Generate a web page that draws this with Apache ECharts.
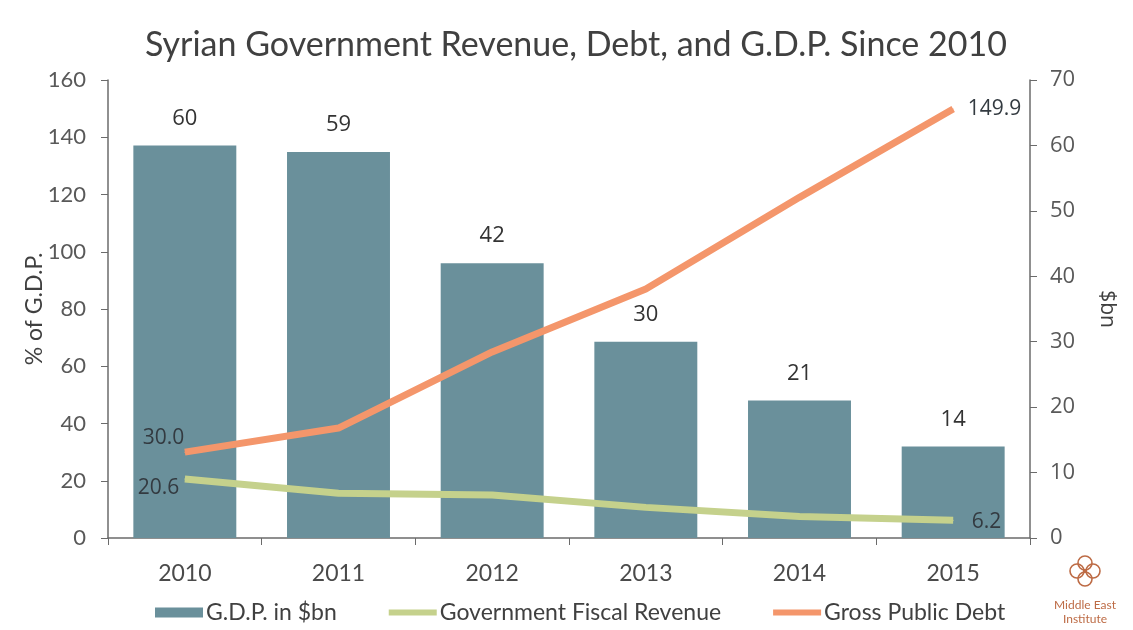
<!DOCTYPE html>
<html>
<head>
<meta charset="utf-8">
<title>Syrian Government Revenue, Debt, and G.D.P. Since 2010</title>
<script src="https://cdn.jsdelivr.net/npm/echarts@6/dist/echarts.min.js"></script>
<style>
  html, body { margin: 0; padding: 0; background: #ffffff; }
  #chart { width: 1133px; height: 630px; }
</style>
</head>
<body>
<div id="chart"></div>
<script>
// Years on the category axis
const years = ['2010', '2011', '2012', '2013', '2014', '2015'];
// G.D.P. in billions of dollars (right axis)
const gdpBn = [60, 59, 42, 30, 21, 14];
// Government fiscal revenue, % of G.D.P. (left axis)
const revenuePct = [20.6, 15.6, 15.0, 10.7, 7.5, 6.2];
// Gross public debt, % of G.D.P. (left axis)
const debtPct = [30.0, 38.4, 65.0, 87.0, 119.0, 149.9];

const leftTicks = { min: 0, max: 160, interval: 20 };
const rightTicks = { min: 0, max: 70, interval: 10 };

const FONT = 'Lato, "Open Sans", sans-serif';
const NUM_FONT = '"Open Sans", Lato, sans-serif';
const BAR_COLOR = '#6a909b';
const REV_COLOR = '#c5d18c';
const DEBT_COLOR = '#f4966b';
const AXIS = '#6b6b6b';
const LOGO = '#bd6b45';

// Labels only on the first and last point of each line
function endLabels(values, first, last) {
  return values.map(function (v, i) {
    if (i === 0) return { value: v, label: Object.assign({ show: true }, first) };
    if (i === values.length - 1) return { value: v, label: Object.assign({ show: true }, last) };
    return v;
  });
}

const lineLabelBase = {
  fontFamily: NUM_FONT,
  fontSize: 21,
  color: '#333a40',
  formatter: function (p) { return p.value.toFixed(1); }
};

const chart = echarts.init(document.getElementById('chart'));
chart.setOption({
  backgroundColor: '#ffffff',
  animation: false,
  title: {
    text: 'Syrian Government Revenue, Debt, and G.D.P. Since 2010',
    left: 140,
    top: 23,
    textStyle: { fontFamily: FONT, fontSize: 34, fontWeight: 'normal', color: '#404040' }
  },
  grid: { left: 108, right: 103, top: 80, bottom: 92 },
  legend: {
    top: 596,
    left: 150,
    itemWidth: 48,
    itemHeight: 10,
    itemGap: 52,
    textStyle: { fontFamily: FONT, fontSize: 23, color: '#404040', padding: [0, 0, 0, -2] },
    data: [
      { name: 'G.D.P. in $bn', icon: 'rect' },
      { name: 'Government Fiscal Revenue', icon: 'path://M0,0h48v6h-48z' },
      { name: 'Gross Public Debt', icon: 'path://M0,0h48v6h-48z' }
    ]
  },
  xAxis: {
    type: 'category',
    data: years,
    boundaryGap: true,
    axisLine: { lineStyle: { color: AXIS, width: 1.5 } },
    axisTick: { show: true, alignWithLabel: false, length: 7, lineStyle: { color: AXIS } },
    axisLabel: { fontFamily: FONT, fontSize: 23, color: '#4a4a4a', margin: 24 },
    splitLine: { show: false }
  },
  yAxis: [
    {
      type: 'value',
      position: 'left',
      min: leftTicks.min, max: leftTicks.max, interval: leftTicks.interval,
      name: '% of G.D.P.',
      nameLocation: 'middle',
      nameGap: 62,
      nameMoveOverlap: false,
      nameTextStyle: { fontFamily: FONT, fontSize: 23, color: '#404040' },
      axisLine: { show: true, lineStyle: { color: AXIS, width: 1.5 } },
      axisTick: { show: true, length: 7, lineStyle: { color: AXIS } },
      axisLabel: { fontFamily: FONT, fontSize: 22, color: '#595959', margin: 22 },
      splitLine: { show: false }
    },
    {
      type: 'value',
      position: 'right',
      min: rightTicks.min, max: rightTicks.max, interval: rightTicks.interval,
      name: '$bn',
      nameLocation: 'middle',
      nameRotate: -90,
      nameGap: 66,
      nameTextStyle: { fontFamily: NUM_FONT, fontSize: 21, color: '#404040' },
      axisLine: { show: true, lineStyle: { color: AXIS, width: 1.5 } },
      axisTick: { show: true, length: 7, lineStyle: { color: AXIS } },
      axisLabel: { fontFamily: NUM_FONT, fontSize: 22, color: '#595959', margin: 20 },
      splitLine: { show: false }
    }
  ],
  series: [
    {
      name: 'G.D.P. in $bn',
      type: 'bar',
      yAxisIndex: 1,
      data: gdpBn,
      barWidth: '67%',
      color: BAR_COLOR,
      itemStyle: { color: BAR_COLOR },
      label: {
        show: true,
        position: 'top',
        distance: 16,
        fontFamily: NUM_FONT,
        fontSize: 22,
        color: '#333333'
      },
      z: 1
    },
    {
      name: 'Government Fiscal Revenue',
      type: 'line',
      yAxisIndex: 0,
      symbol: 'circle',
      symbolSize: 1,
      showSymbol: true,
      color: REV_COLOR,
      itemStyle: { color: REV_COLOR },
      lineStyle: { color: REV_COLOR, width: 7 },
      data: endLabels(revenuePct,
        Object.assign({}, lineLabelBase, { position: 'left', distance: 5, offset: [0, 9] }),
        Object.assign({}, lineLabelBase, { position: 'right', distance: 18, offset: [0, 2] })
      ),
      z: 3
    },
    {
      name: 'Gross Public Debt',
      type: 'line',
      yAxisIndex: 0,
      symbol: 'circle',
      symbolSize: 1,
      showSymbol: true,
      color: DEBT_COLOR,
      itemStyle: { color: DEBT_COLOR },
      lineStyle: { color: DEBT_COLOR, width: 7 },
      data: endLabels(debtPct,
        Object.assign({}, lineLabelBase, { position: 'left', distance: 2, offset: [2, -14] }),
        Object.assign({}, lineLabelBase, { position: 'right', distance: 14 })
      ),
      z: 3
    }
  ],
  graphic: [
    {
      type: 'group',
      x: 1069,
      y: 554,
      children: [
        // ornamental emblem
        { type: 'circle', shape: { cx: 16, cy: 9, r: 7 }, style: { fill: 'none', stroke: LOGO, lineWidth: 1.6 } },
        { type: 'circle', shape: { cx: 16, cy: 25, r: 7 }, style: { fill: 'none', stroke: LOGO, lineWidth: 1.6 } },
        { type: 'circle', shape: { cx: 8, cy: 17, r: 7 }, style: { fill: 'none', stroke: LOGO, lineWidth: 1.6 } },
        { type: 'circle', shape: { cx: 24, cy: 17, r: 7 }, style: { fill: 'none', stroke: LOGO, lineWidth: 1.6 } },
        { type: 'circle', shape: { cx: 16, cy: 17, r: 2 }, style: { fill: LOGO } }
      ]
    },
    {
      type: 'text',
      x: 1085,
      y: 598,
      style: {
        text: 'Middle East\nInstitute',
        fontFamily: FONT,
        fontSize: 12,
        lineHeight: 14,
        fill: LOGO,
        align: 'center',
        verticalAlign: 'top'
      }
    }
  ]
});
</script>
</body>
</html>
